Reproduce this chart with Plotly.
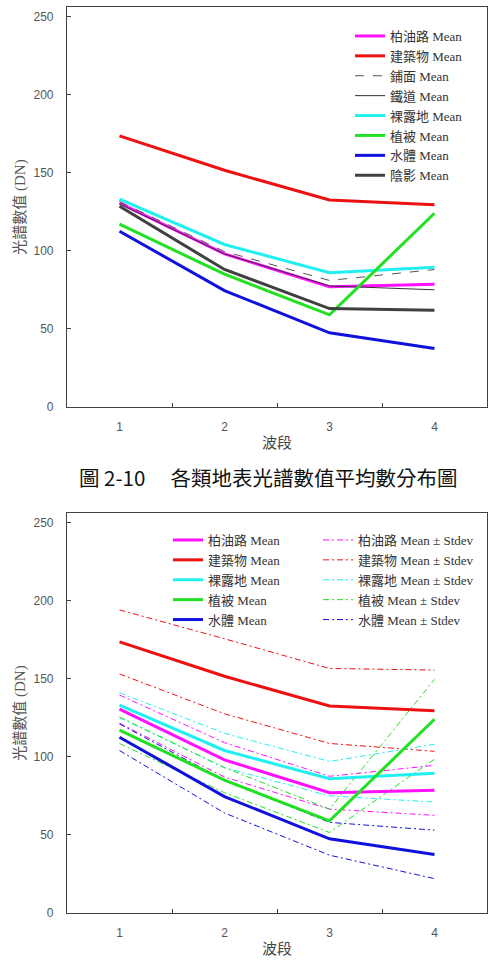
import plotly.graph_objects as go

bands = [1, 2, 3, 4]
band_labels = ["1", "2", "3", "4"]

# Mean values (DN) per class
asphalt_mean = [130.5, 98.0, 77.0, 78.5]      # 柏油路
building_mean = [173.5, 151.5, 132.5, 129.5]  # 建築物
pavement_mean = [131.5, 99.5, 81.0, 88.0]     # 鋪面
railway_mean = [130.0, 98.0, 77.5, 75.0]      # 鐵道
bare_mean = [133.0, 104.0, 86.0, 89.5]        # 裸露地
veg_mean = [117.0, 85.0, 59.0, 124.0]         # 植被
water_mean = [112.5, 74.5, 47.5, 37.5]        # 水體
shadow_mean = [128.5, 88.0, 63.0, 62.0]       # 陰影

# Standard deviations (DN)
asphalt_sd = [9.0, 11.0, 10.5, 16.0]
building_sd = [20.5, 24.0, 24.0, 26.0]
bare_sd = [8.0, 11.0, 11.0, 18.5]
veg_sd = [8.5, 8.0, 7.5, 25.5]
water_sd = [8.5, 10.5, 10.5, 15.5]

y_ticks = [0, 50, 100, 150, 200, 250]

SERIF = "Liberation Serif, Times New Roman, Noto Sans CJK TC, serif"
SANS = "Liberation Sans, Arial, sans-serif"
AXC = "#404040"

fig = go.Figure()

top_series = [
    ("柏油路 Mean", asphalt_mean, "#FF10FF", 3, "solid"),
    ("建築物 Mean", building_mean, "#EE1111", 3, "solid"),
    ("鋪面 Mean", pavement_mean, "#555555", 1, "dash"),
    ("鐵道 Mean", railway_mean, "#333333", 1, "solid"),
    ("裸露地 Mean", bare_mean, "#22F0F0", 3, "solid"),
    ("植被 Mean", veg_mean, "#22E022", 3, "solid"),
    ("水體 Mean", water_mean, "#1111DD", 3, "solid"),
    ("陰影 Mean", shadow_mean, "#404040", 3, "solid"),
]
for name, vals, col, w, dash in top_series:
    fig.add_trace(go.Scatter(x=bands, y=vals, mode="lines", name=name,
                             line=dict(color=col, width=w, dash=dash),
                             xaxis="x", yaxis="y", legend="legend"))

bottom_series = [
    ("柏油路", asphalt_mean, asphalt_sd, "#FF10FF"),
    ("建築物", building_mean, building_sd, "#EE1111"),
    ("裸露地", bare_mean, bare_sd, "#22F0F0"),
    ("植被", veg_mean, veg_sd, "#22E022"),
    ("水體", water_mean, water_sd, "#1111DD"),
]
DASHDOT = "6px,3px,2px,3px"
for name, m, sd, col in bottom_series:
    up = [a + b for a, b in zip(m, sd)]
    lo = [a - b for a, b in zip(m, sd)]
    fig.add_trace(go.Scatter(x=bands, y=up, mode="lines", name=name + " Mean ± Stdev",
                             legendgroup=name + "sd",
                             line=dict(color=col, width=1, dash=DASHDOT),
                             xaxis="x2", yaxis="y2", legend="legend3"))
    fig.add_trace(go.Scatter(x=bands, y=lo, mode="lines", name=name + " Mean ± Stdev",
                             legendgroup=name + "sd", showlegend=False,
                             line=dict(color=col, width=1, dash=DASHDOT),
                             xaxis="x2", yaxis="y2", legend="legend3"))
for name, m, sd, col in bottom_series:
    fig.add_trace(go.Scatter(x=bands, y=m, mode="lines", name=name + " Mean",
                             line=dict(color=col, width=3),
                             xaxis="x2", yaxis="y2", legend="legend2"))

H_PLOT = 906.0
def py(px):
    return (913 - px) / H_PLOT

def px_x(px):
    return (px - 67) / 420.0

def xax(anchor):
    return dict(range=[0.5, 4.5], tickmode="array", tickvals=bands, ticktext=band_labels,
                ticks="", showgrid=False, zeroline=False, showline=True, mirror=True,
                linecolor=AXC, linewidth=1.2, anchor=anchor,
                tickfont=dict(family=SANS, size=12, color="#555555"),
                ticklabelstandoff=8,
                minor=dict(tickmode="array", tickvals=[1.5, 2.5, 3.5], ticks="inside",
                           ticklen=4, tickcolor=AXC, tickwidth=1.2, showgrid=False),
                title=dict(text="波段", font=dict(family=SERIF, size=15, color="#444444"),
                           standoff=4))

def yax(domain, anchor):
    return dict(domain=domain, range=[0, 256], tickmode="array", tickvals=y_ticks,
                ticks="inside", ticklen=4, tickcolor=AXC, tickwidth=1.2,
                showgrid=False, zeroline=False, showline=True, mirror=True,
                linecolor=AXC, linewidth=1.2, anchor=anchor,
                tickfont=dict(family=SANS, size=12, color="#555555"),
                ticklabelstandoff=10,
                title=dict(text="光譜數值 (DN)", font=dict(family=SERIF, size=15, color="#555555"),
                           standoff=4))

LEG_FONT = dict(family=SERIF, size=13, color="#333333")
fig.update_layout(
    width=495, height=976,
    margin=dict(l=67, r=8, t=7, b=63),
    paper_bgcolor="white", plot_bgcolor="white",
    xaxis=xax("y"),
    yaxis=yax([py(407), 1.0], "x"),
    xaxis2=xax("y2"),
    yaxis2=yax([0.0, py(513)], "x2"),
    legend=dict(x=px_x(350), y=py(21), xanchor="left", yanchor="top",
                bgcolor="rgba(255,255,255,0)", borderwidth=0, font=LEG_FONT,
                tracegroupgap=0),
    legend2=dict(x=px_x(168), y=py(525), xanchor="left", yanchor="top",
                 bgcolor="rgba(255,255,255,0)", borderwidth=0, font=LEG_FONT,
                 tracegroupgap=0),
    legend3=dict(x=px_x(318), y=py(525), xanchor="left", yanchor="top",
                 bgcolor="rgba(255,255,255,0)", borderwidth=0, font=LEG_FONT,
                 tracegroupgap=0),
    showlegend=True,
    annotations=[dict(text="圖 2-10　 各類地表光譜數值平均數分布圖", xref="paper", yref="paper",
                      x=px_x(268), y=py(477), xanchor="center", yanchor="middle",
                      showarrow=False,
                      font=dict(family="Noto Sans CJK TC, sans-serif", size=20.5, color="#111111"))],
)

fig.write_html("out.html")
